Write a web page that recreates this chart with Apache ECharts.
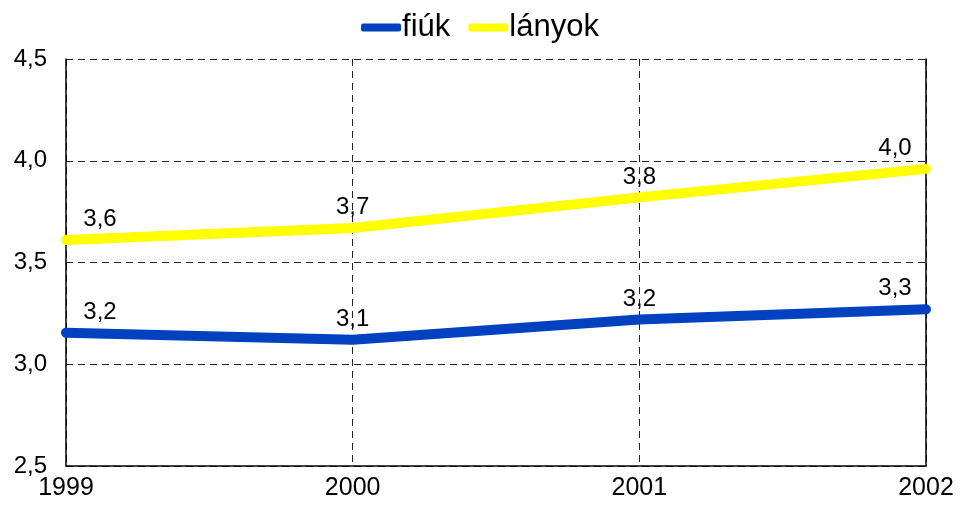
<!DOCTYPE html>
<html>
<head>
<meta charset="utf-8">
<script src="https://cdn.jsdelivr.net/npm/echarts@6/dist/echarts.min.js"></script>
<style>
html,body{margin:0;padding:0;background:#fff;}
#chart{width:960px;height:505px;}
</style>
</head>
<body>
<div id="chart"></div>
<script>
// evek es ertekek
var years = ['1999', '2000', '2001', '2002'];
var fiuk = [3.155, 3.12, 3.22, 3.27];
var lanyok = [3.61, 3.67, 3.82, 3.96];
var yTicks = [2.5, 3.0, 3.5, 4.0, 4.5];

function comma(v){
	return (Math.round(v * 10) / 10).toFixed(1).replace('.', ',');
}

// elso es utolso cimke oldalra tolva
function withLabels(arr){
	return arr.map(function(v, i){
		var item = {value: v};
		if (i === 0) item.label = {offset: [34, 0]};
		if (i === arr.length - 1) item.label = {offset: [-31, 0]};
		return item;
	});
}

var font = 'Liberation Sans, Arial, sans-serif';
var chart = echarts.init(document.getElementById('chart'));

var lineSeries = function(name, color, arr){
	return {
		name: name,
		type: 'line',
		data: withLabels(arr),
		symbol: 'circle',
		symbolSize: 1,
		animation: false,
		itemStyle: {color: color},
		lineStyle: {width: 10, color: color, cap: 'round', join: 'round'},
		label: {
			show: true,
			position: 'top',
			distance: 8,
			color: '#000',
			fontSize: 24,
			fontFamily: font,
			formatter: function(p){ return comma(p.value); }
		}
	};
};

chart.setOption({
	backgroundColor: '#fff',
	legend: {
		top: 7,
		left: 'center',
		itemWidth: 40,
		itemHeight: 8,
		itemGap: 18,
		textStyle: {fontSize: 31, fontFamily: font, color: '#000', padding: [0, 0, 0, -4]},
		data: [
			{name: 'fiúk', icon: 'roundRect'},
			{name: 'lányok', icon: 'roundRect'}
		]
	},
	grid: {left: 66, right: 34, top: 59, bottom: 39},
	xAxis: {
		type: 'category',
		data: years,
		boundaryGap: false,
		axisLine: {lineStyle: {color: '#000', width: 1.5}},
		axisTick: {show: false},
		axisLabel: {fontSize: 25, fontFamily: font, color: '#000', margin: 10},
		splitLine: {show: true, lineStyle: {color: '#222', type: [7, 5], width: 1}}
	},
	yAxis: [{
		type: 'value',
		min: yTicks[0],
		max: yTicks[yTicks.length - 1],
		interval: 0.5,
		axisLine: {show: true, lineStyle: {color: '#000', width: 1.5}},
		axisTick: {show: false},
		axisLabel: {
			fontSize: 24, fontFamily: font, color: '#000', margin: 19,
			formatter: function(v){ return comma(v); }
		},
		splitLine: {show: true, lineStyle: {color: '#222', type: [7, 5], width: 1}}
	}, {
		type: 'value',
		position: 'right',
		min: yTicks[0],
		max: yTicks[yTicks.length - 1],
		interval: 0.5,
		axisLine: {show: true, lineStyle: {color: '#000', width: 1.5}},
		axisTick: {show: false},
		axisLabel: {show: false},
		splitLine: {show: false}
	}],
	series: [
		lineSeries('fiúk', '#0041BF', fiuk),
		lineSeries('lányok', '#FFFF00', lanyok)
	]
});
</script>
</body>
</html>
